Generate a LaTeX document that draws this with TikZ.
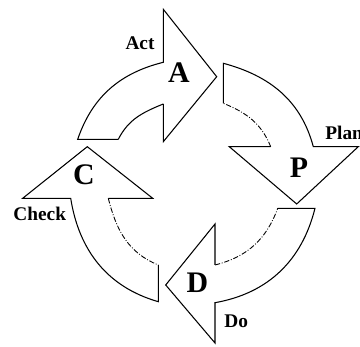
\documentclass[tikz,border=0pt]{standalone}
\usepackage{fontspec}
\setmainfont{Liberation Serif}
\usetikzlibrary{positioning}

\begin{document}
\begin{tikzpicture}[x=0.02cm,y=0.02cm,
      band/.style={draw,line width=0.6pt,line join=miter},
      rim/.style={line width=0.5pt,densely dashdotted},
      big/.style={font=\fontsize{17}{17}\selectfont\bfseries,inner sep=0pt},
      lbl/.style={font=\fontsize{11}{11}\selectfont\bfseries,inner sep=0pt}]
    \useasboundingbox (0,0) rectangle (360,347);

    % top arrow (Act)
    \draw[band] (118.3,207.7) -- (77.7,207.7) to[out=71,in=194] (163.3,284.7)
      -- (163.3,337.7) -- (216.7,270.3) -- (163.3,205.3) -- (163.3,243);
    \draw[band] (163.3,243) to[out=202,in=63] (118.3,207.7);
    % right arrow (Plan)
    \draw[band] (223.3,243.7) -- (223.3,283.7) to[out=-15,in=105] (313.3,200.3)
      -- (358.3,200.3) -- (296.7,143) -- (229.3,200.3) -- (270.7,200.3);
    \draw[rim] (270.7,200.3) to[out=112,in=338] (223.3,243.7);
    % bottom arrow (Do)
    \draw[band] (277.7,138.7) -- (315,138.7) to[out=256,in=10] (215,44.3)
      -- (215,4) -- (165.7,62) -- (215,123) -- (215,82);
    \draw[rim] (215,82) to[out=14,in=250] (277.7,138.7);
    % left arrow (Check)
    \draw[band] (158.3,82) -- (158.3,45.3) to[out=164,in=279] (70.7,148.7)
      -- (22.7,148.7) -- (87.3,200.3) -- (152.7,148.7) -- (108.3,148.7);
    \draw[rim] (108.3,148.7) to[out=284,in=158] (158.3,82);

    \node[big] (a) at (179,274.2) {A};
    \node[big] (p) at (299,179.5) {P};
    \node[big] (d) at (197.5,64.5) {D};
    \node[big] (c) at (84,172) {C};

    \node[lbl] (act)   at (140,304) {Act};
    \node[lbl,anchor=west] (plan) at (325,214.5) {Plan};
    \node[lbl] (do)    at (236.3,25.3) {Do};
    \node[lbl] (check) at (39.7,133.3) {Check};
  \end{tikzpicture}
\end{document}
